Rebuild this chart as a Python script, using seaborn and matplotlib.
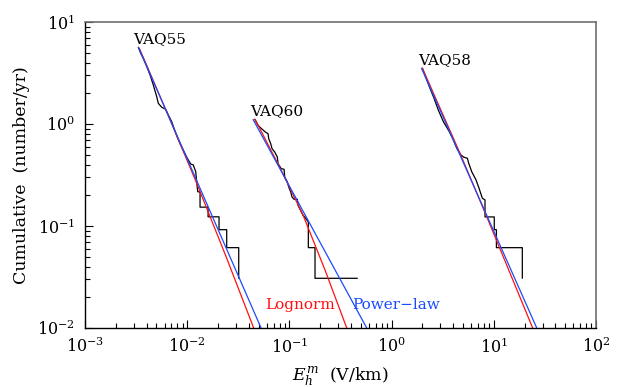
import matplotlib
matplotlib.use("Agg")
import matplotlib.pyplot as plt
import seaborn as sns
import pandas as pd

# empirical cumulative rate curves (E in V/km, rate in number/yr)
e55 = [3.32e-3, 3.51e-3, 3.67e-3, 3.80e-3, 4.02e-3, 4.33e-3, 4.66e-3, 5.03e-3,
       5.21e-3, 5.63e-3, 6.16e-3, 6.53e-3, 7.05e-3, 7.48e-3, 8.00e-3, 8.64e-3,
       9.30e-3, 1.002e-2, 1.082e-2, 1.147e-2, 1.211e-2, 1.247e-2, 1.267e-2,
       1.335e-2, 1.335e-2, 1.60e-2, 1.60e-2, 2.048e-2, 2.048e-2, 2.434e-2,
       2.434e-2, 3.19e-2, 3.19e-2]
n55 = [5.65, 4.93, 4.51, 4.17, 3.65, 3.02, 2.41, 1.85,
       1.596, 1.458, 1.394, 1.225, 1.053, 0.887, 0.741, 0.622,
       0.535, 0.461, 0.405, 0.396, 0.3405, 0.252, 0.217,
       0.215, 0.153, 0.153, 0.123, 0.123, 0.092, 0.092,
       0.0613, 0.0613, 0.0307]

e60 = [4.58e-2, 4.93e-2, 5.24e-2, 5.81e-2, 6.18e-2, 6.27e-2, 6.56e-2, 6.76e-2,
       7.18e-2, 7.61e-2, 7.74e-2, 8.33e-2, 8.86e-2, 9.00e-2, 9.54e-2, 9.84e-2,
       0.1030, 0.1060, 0.1109, 0.1195, 0.1214, 0.1261, 0.1359, 0.1412,
       0.1531, 0.1531, 0.178, 0.178, 0.462]
n60 = [1.112, 0.971, 0.914, 0.835, 0.803, 0.718, 0.641, 0.573,
       0.531, 0.475, 0.408, 0.3645, 0.3597, 0.302, 0.270, 0.241,
       0.2154, 0.1925, 0.1827, 0.1827, 0.1595, 0.1478, 0.1273, 0.1225,
       0.1094, 0.0613, 0.0613, 0.0307, 0.0307]

e58 = [2.00, 2.12, 2.34, 2.60, 2.86, 3.21, 3.67, 4.02, 4.34, 4.75, 5.11, 5.51,
       5.68, 6.08, 6.70, 7.17, 7.72, 8.20, 8.20, 10.1, 10.1, 10.6, 10.6,
       19.0, 19.0]
n58 = [3.52, 3.02, 2.32, 1.786, 1.372, 1.053, 0.840, 0.697, 0.578, 0.497,
       0.472, 0.461, 0.412, 0.3405, 0.2825, 0.234, 0.187, 0.180, 0.1227,
       0.1227, 0.092, 0.092, 0.0613, 0.0613, 0.0307]

# lognormal fits (red)
logn_e55 = [3.40e-3, 6.49e-3, 1.239e-2, 2.365e-2, 4.47e-2]
logn_n55 = [5.52, 1.225, 0.262, 0.0520, 0.01]
logn_e60 = [4.61e-2, 8.28e-2, 0.1359, 0.2230, 0.3638]
logn_n60 = [1.112, 0.354, 0.128, 0.0370, 0.01]
logn_e58 = [2.00, 4.67, 8.52, 24.0]
logn_n58 = [3.52, 0.516, 0.1234, 0.01]

# power-law fits (blue)
pow_e55 = [3.34e-3, 5.28e-2]
pow_n55 = [5.62, 0.01]
pow_e60 = [4.41e-2, 0.5705]
pow_n60 = [1.107, 0.01]
pow_e58 = [1.96, 26.3]
pow_n58 = [3.52, 0.01]

station_names = ["VAQ55", "VAQ60", "VAQ58"]
name_x = [2.95e-3, 4.12e-2, 1.826]
name_y = [6.22, 1.225, 3.875]

RED = "#ff1010"
BLUE = "#1a4cff"

sns.set_theme(style="ticks")
plt.rcParams["font.family"] = ["DejaVu Serif"]
plt.rcParams["mathtext.fontset"] = "dejavuserif"
for key in ["text.color", "axes.labelcolor", "xtick.color", "ytick.color",
            "xtick.labelcolor", "ytick.labelcolor"]:
    plt.rcParams[key] = "black"

fig = plt.figure(figsize=(6.17, 3.87), dpi=100)
ax = fig.add_axes([0.1378, 0.1525, 0.8282, 0.7907])
ax.set_xscale("log")
ax.set_yscale("log")

for e, n in [(e55, n55), (e60, n60), (e58, n58)]:
    df = pd.DataFrame({"E": e, "N": n})
    sns.lineplot(data=df, x="E", y="N", sort=False, estimator=None,
                 color="black", lw=0.9, ax=ax)
for e, n in [(logn_e55, logn_n55), (logn_e60, logn_n60), (logn_e58, logn_n58)]:
    df = pd.DataFrame({"E": e, "N": n})
    sns.lineplot(data=df, x="E", y="N", sort=False, estimator=None,
                 color=RED, lw=0.9, ax=ax)
for e, n in [(pow_e55, pow_n55), (pow_e60, pow_n60), (pow_e58, pow_n58)]:
    df = pd.DataFrame({"E": e, "N": n})
    sns.lineplot(data=df, x="E", y="N", sort=False, estimator=None,
                 color=BLUE, lw=0.9, ax=ax)

for name, x, y in zip(station_names, name_x, name_y):
    ax.text(x, y, name, fontsize=11, color="black", ha="left", va="baseline")

ax.text(0.0577, 0.0153, "Lognorm", color=RED, fontsize=11, ha="left", va="baseline")
ax.text(0.41, 0.0153, "Power\u2212law", color=BLUE, fontsize=11, ha="left", va="baseline")

ax.set_xlim(1e-3, 1e2)
ax.set_ylim(1e-2, 1e1)
ax.set_xlabel(r"$E_h^m$  (V/km)", fontsize=12.5, labelpad=6)
ax.set_ylabel("Cumulative  (number/yr)", fontsize=12.5, labelpad=5)

ax.tick_params(which="both", direction="in", top=False, right=False,
               labelsize=11.5, color="black", width=0.8)
ax.tick_params(which="major", length=6, pad=7)
ax.tick_params(which="minor", length=3.5)
for side in ["left", "bottom"]:
    ax.spines[side].set_color("black")
    ax.spines[side].set_linewidth(1.0)
for side in ["top", "right"]:
    ax.spines[side].set_color("#707070")
    ax.spines[side].set_linewidth(1.2)

fig.savefig("out.png", dpi=100)
